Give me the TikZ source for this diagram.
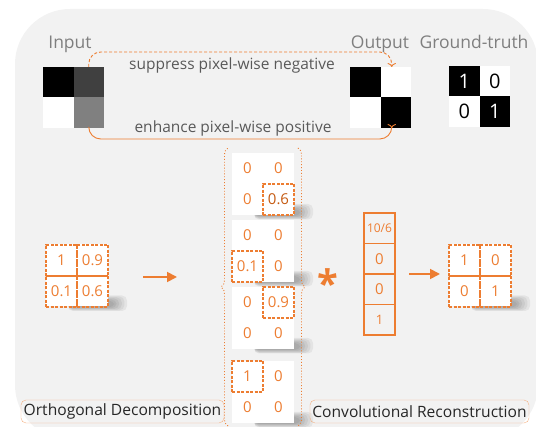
\documentclass[tikz,border=0pt]{standalone}
\usepackage{fontspec}
\setmainfont{Open Sans}
\usetikzlibrary{arrows.meta,backgrounds,decorations.pathreplacing}

\definecolor{orng}{HTML}{ED7D31}
\definecolor{darkorng}{HTML}{C55A11}
\definecolor{bggray}{HTML}{F2F2F2}
\definecolor{txtgray}{HTML}{7F7F7F}
\definecolor{capgray}{HTML}{595959}
\definecolor{boxline}{HTML}{F4B183}

\tikzset{
  pix/.style={minimum size=30.5pt,inner sep=0pt,outer sep=0pt},
  frame/.style={fill=white,minimum size=62pt,inner sep=0pt,outer sep=0pt},
  softshadow/.style={fill=black,opacity=0.055,rounded corners=5pt},
  mcell/.style={minimum size=31pt,inner sep=0pt,outer sep=0pt,draw=orng,
    dash pattern=on 3pt off 1.5pt,line width=1.2pt,text=orng,
    font=\fontsize{15}{15}\selectfont},
  ccell/.style={minimum size=31pt,inner sep=0pt,outer sep=0pt,text=orng,
    font=\fontsize{15}{15}\selectfont},
  hl/.style={draw=orng,dash pattern=on 3pt off 1.5pt,line width=1.2pt},
  vcell/.style={minimum width=31pt,minimum height=30.5pt,inner sep=0pt,
    outer sep=0pt,draw=orng,line width=1.2pt,fill=bggray,text=orng,
    font=\fontsize{15}{15}\selectfont},
  arr/.style={orng,line width=1.8pt,-{Triangle[length=10pt,width=10pt]}},
  title/.style={text=txtgray,anchor=base,font=\fontsize{17.5}{17.5}\selectfont},
  caption/.style={text=capgray,anchor=base,font=\fontsize{15.5}{15.5}\selectfont},
  stage/.style={draw=boxline,rounded corners=5pt,inner sep=1pt,
    minimum height=23pt,text=black!85,font=\fontsize{15.6}{15.6}\selectfont}
}

\begin{document}
\begin{tikzpicture}[x=1pt,y=-1pt]

  \useasboundingbox (0,0) rectangle (536,427);
  \begin{scope}[on background layer]
    \fill[bggray,rounded corners=55pt] (15,440) -- (15,9) -- (538,9)
      -- (538,440) -- cycle;
  \end{scope}

  % images on top
  \node[title] (tin)  at (70,49)  {Input};
  \node[title] (tout) at (380,49) {Output};
  \node[title] (tgt)  at (474,49) {Ground-truth};

  \begin{scope}[every node/.style={pix}]
    \node[fill=black]    (in11) at (58.25,82.25)  {};
    \node[fill=black!75] (in12) at (88.75,82.25)  {};
    \node[fill=white]    (in21) at (58.25,112.75) {};
    \node[fill=black!50] (in22) at (88.75,112.75) {};

    \node[fill=black] (out11) at (365.25,82.25)  {};
    \node[fill=white] (out12) at (395.75,82.25)  {};
    \node[fill=white] (out21) at (365.25,112.75) {};
    \node[fill=black] (out22) at (395.75,112.75) {};
  \end{scope}

  \begin{scope}[every node/.style={pix,font=\fontsize{20}{20}\selectfont}]
    \node[fill=black,text=white] (gt11) at (464.25,81.25)  {1};
    \node[fill=white]            (gt12) at (494.75,81.25)  {0};
    \node[fill=white]            (gt21) at (464.25,111.75) {0};
    \node[fill=black,text=white] (gt22) at (494.75,111.75) {1};
  \end{scope}

  \draw[orng,line width=0.9pt,dash pattern=on 3pt off 2pt,rounded corners=12pt,
    -{To[length=4pt]}] (in12.north) -- ++(0,-15) -| ([xshift=-4pt]out12.north);
  \draw[orng,line width=0.9pt,rounded corners=12pt,
    -{To[length=4pt]}] (in22.south) -- ++(0,11) -| ([xshift=-4pt]out22.south);

  \node[caption] (sup) at (232,70)  {suppress pixel-wise negative};
  \node[caption] (enh) at (233,133) {enhance pixel-wise positive};

  % orthogonal decomposition
  \node[frame] (mat) at (77,275.5) {};
  \begin{scope}[every node/.style={mcell}]
    \node (m11) at (61.5,260.5) {1};
    \node (m12) at (92.5,260.5) {0.9};
    \node (m21) at (61.5,291.5) {0.1};
    \node (m22) at (92.5,291.5) {0.6};
  \end{scope}
  \draw[orng,line width=1.2pt] (m11.south west) -- (m12.south east);

  \draw[arr] ([xshift=35pt,yshift=-1.5pt]mat.east)
    -- ([xshift=69pt,yshift=-1.5pt]mat.east);

  \node[frame] (c1) at (263,184) {};
  \node[frame] (c2) at (263,251) {};
  \node[frame] (c3) at (263,318) {};
  \node[frame] (c4) at (263,392) {};

  \begin{scope}[every node/.style={ccell}]
    \node (a11) at (247.5,168.5) {0};
    \node (a12) at (278.5,168.5) {0};
    \node (a21) at (247.5,199.5) {0};
    \node[hl,text=darkorng] (a22) at (278.5,199.5) {0.6};

    \node (b11) at (247.5,235.5) {0};
    \node (b12) at (278.5,235.5) {0};
    \node[hl] (b21) at (247.5,266.5) {0.1};
    \node (b22) at (278.5,266.5) {0};

    \node (d11) at (247.5,302.5) {0};
    \node[hl] (d12) at (278.5,302.5) {0.9};
    \node (d21) at (247.5,333.5) {0};
    \node (d22) at (278.5,333.5) {0};

    \node[hl] (e11) at (247.5,376.5) {1};
    \node (e12) at (278.5,376.5) {0};
    \node (e21) at (247.5,407.5) {0};
    \node (e22) at (278.5,407.5) {0};
  \end{scope}

  \draw[orng,line width=0.9pt,dotted,decorate,
    decoration={brace,amplitude=7pt}] (228,426) -- (228,148);
  \draw[orng,line width=0.9pt,dotted,decorate,
    decoration={brace,amplitude=7pt}] (298,148) -- (298,426);

  % convolutional reconstruction
  \node[text=orng,font=\fontsize{38}{38}\selectfont\bfseries] (star) at (328,283) {*};

  \node[vcell,font=\fontsize{12}{12}\selectfont] (v1) at (379.5,228.25) {10/6};
  \node[vcell] (v2) at (379.5,258.75) {0};
  \node[vcell] (v3) at (379.5,289.25) {0};
  \node[vcell,font=\fontsize{13}{13}\selectfont] (v4) at (379.5,319.75) {1};

  \draw[arr] ([xshift=14pt]v2.south east) -- ([xshift=45pt]v2.south east);

  \node[frame] (res) at (480,275.5) {};
  \begin{scope}[every node/.style={mcell}]
    \node (r11) at (464.5,260.5) {1};
    \node (r12) at (495.5,260.5) {0};
    \node (r21) at (464.5,291.5) {0};
    \node (r22) at (495.5,291.5) {1};
  \end{scope}
  \draw[orng,line width=1.2pt] (r11.south west) -- (r12.south east);

  % shadows behind the white frames
  \begin{scope}[on background layer]
    \foreach \f in {mat,c1,c2,c3,c4,res}
      \foreach \k in {0,...,5}
        \fill[softshadow] ([xshift=-40pt,yshift={(6+\k)*1pt}]\f.south east)
          rectangle ([xshift={(6+2.6*\k)*1pt},yshift={(-1-0.7*\k)*1pt}]\f.south east);
  \end{scope}

  \node[stage,minimum width=203pt] (od) at (122.5,411.5) {Orthogonal Decomposition};
  \node[stage,minimum width=219pt] (cr) at (419.5,411.5) {Convolutional Reconstruction};

\end{tikzpicture}
\end{document}
